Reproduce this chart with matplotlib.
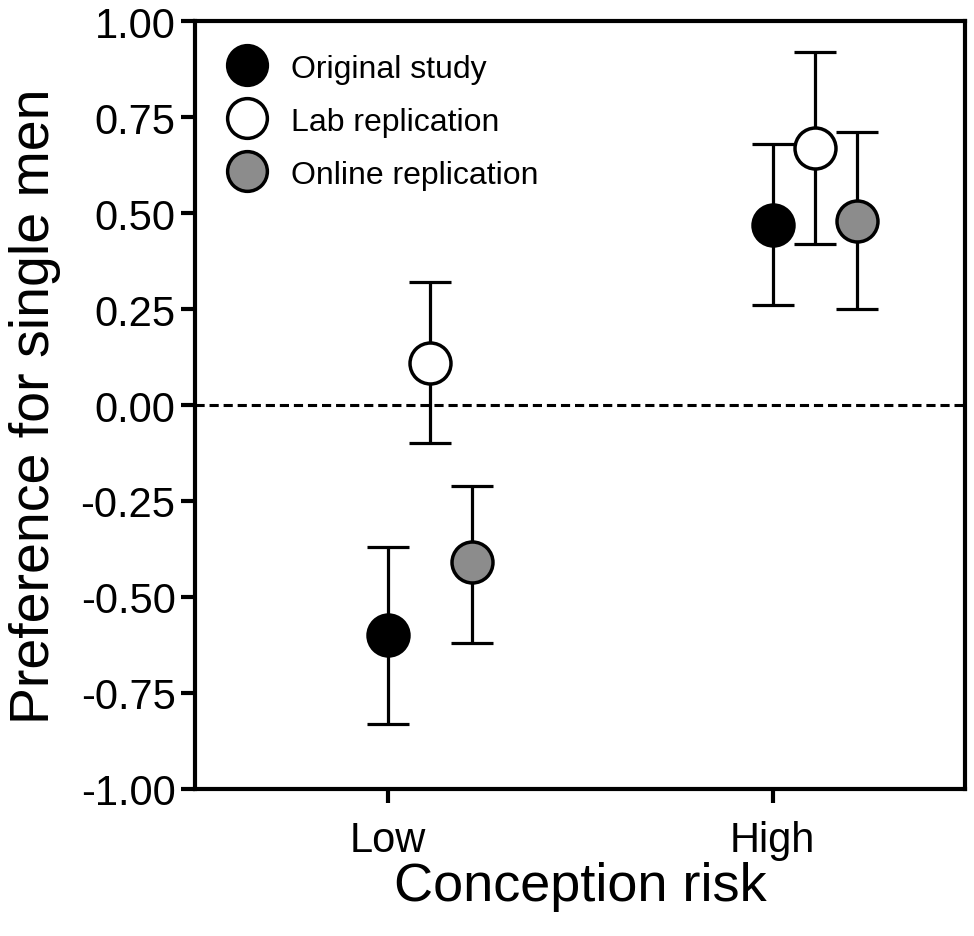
import matplotlib.pyplot as plt
from matplotlib.ticker import FormatStrFormatter

plt.rcParams['font.family'] = ['Liberation Sans', 'DejaVu Sans']
plt.rcParams['axes.unicode_minus'] = False

riesgo = ['Low', 'High']
grupos = ['Original study', 'Lab replication', 'Online replication']
colores = ['black', 'white', '#8c8c8c']
desplazamiento = [0.0, 0.11, 0.22]

media = {
    'Original study': [-0.60, 0.47],
    'Lab replication': [0.11, 0.67],
    'Online replication': [-0.41, 0.48],
}
inferior = {
    'Original study': [-0.83, 0.26],
    'Lab replication': [-0.10, 0.42],
    'Online replication': [-0.62, 0.25],
}
superior = {
    'Original study': [-0.37, 0.68],
    'Lab replication': [0.32, 0.92],
    'Online replication': [-0.21, 0.71],
}

fig = plt.figure(figsize=(9.74, 9.37), dpi=100)
ax = fig.add_axes([0.2002, 0.1569, 0.7906, 0.8196])

# linea de referencia en cero
ax.axhline(0, color='black', lw=2.2, linestyle=(0, (3, 1.6)), zorder=1)

for g, col, d in zip(grupos, colores, desplazamiento):
    x = [i + 1 + d for i in range(len(riesgo))]
    m = media[g]
    err = [[m[i] - inferior[g][i] for i in range(2)],
           [superior[g][i] - m[i] for i in range(2)]]
    ax.errorbar(x, m, yerr=err, fmt='none', ecolor='black', elinewidth=2.3,
                capsize=15, capthick=2.3, zorder=2)
    ax.plot(x, m, 'o', ms=29.5, mfc=col, mec='black', mew=2.5, label=g,
            linestyle='none', zorder=3)

ax.set_xlim(0.5, 2.5)
ax.set_ylim(-1.0, 1.0)
ax.set_xticks([1, 2])
ax.set_xticklabels(riesgo)
ax.set_yticks([-1.0, -0.75, -0.5, -0.25, 0.0, 0.25, 0.5, 0.75, 1.0])
ax.yaxis.set_major_formatter(FormatStrFormatter('%.2f'))
ax.tick_params(axis='both', labelsize=30, width=3, length=10, direction='out')
ax.tick_params(axis='x', pad=12)
ax.tick_params(axis='y', pad=4)
for s in ax.spines.values():
    s.set_linewidth(3)

ax.set_xlabel('Conception risk', fontsize=39, labelpad=1)
ax.set_ylabel('Preference for single men', fontsize=40, labelpad=14)

ax.legend(loc='upper left', bbox_to_anchor=(0.0, 1.0), frameon=False,
          fontsize=23, handletextpad=0.8, labelspacing=0.72,
          handlelength=1.2, borderaxespad=0.62, markerscale=0.97)

plt.savefig('out.png', dpi=100)
